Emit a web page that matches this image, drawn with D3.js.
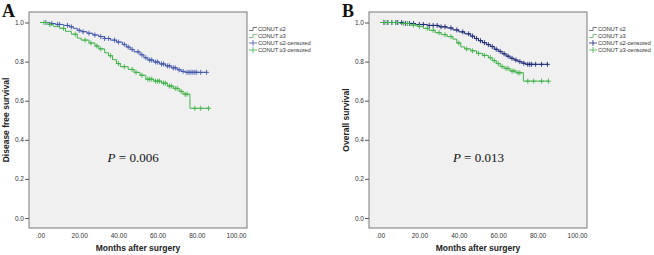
<!DOCTYPE html>
<html>
<head>
<meta charset="utf-8">
<script src="https://cdn.jsdelivr.net/npm/d3@7"></script>
<style>
  body { margin: 0; background: #fff; }
  svg { display: block; }
</style>
</head>
<body>
<svg id="chart" width="654" height="255"></svg>
<script>
// ---- data ----
const xTicks = [0, 20, 40, 60, 80, 100]
const yTicks = [0, 0.2, 0.4, 0.6, 0.8, 1.0]
const legendLabels = ['CONUT \u22642', 'CONUT \u22653', 'CONUT \u22642-censored', 'CONUT \u22653-censored']

// Panel A: disease free survival, [month, survival after step]
const dfsLow = [[0,1],[5,0.995],[8,0.99],[12,0.985],[15,0.978],[17,0.97],[19,0.96],[21,0.953],[24,0.945],[27,0.936],[30,0.928],[33,0.918],[36,0.91],[39,0.9],[42,0.888],[44,0.875],[46,0.862],[48,0.85],[51,0.835],[53,0.82],[55,0.808],[58,0.798],[61,0.788],[64,0.778],[67,0.768],[70,0.758],[72,0.75],[74,0.745]]
const dfsLowEnd = 85
const dfsLowCensor = [3,6,9,10,14,16,20,22,25,28,31,33,35,38,40,43,45,47,50,52,54,56,57,59,60,62,63,65,66,68,69,71,73,75,76,77,78,79,80,82,85]
const dfsHigh = [[0,1],[4,0.99],[7,0.979],[10,0.97],[13,0.955],[16,0.94],[19,0.92],[21,0.91],[25,0.895],[28,0.88],[30,0.865],[33,0.845],[35,0.83],[37,0.81],[39,0.79],[41,0.774],[45,0.76],[48,0.745],[51,0.73],[54,0.71],[58,0.7],[62,0.69],[65,0.675],[68,0.663],[71,0.648],[73,0.633],[76.5,0.561]]
const dfsHighEnd = 86
const dfsHighCensor = [2,5,12,18,23,26,29,31,36,40,43,47,49,52,55,56,57,59,60,61,63,64,66,67,69,70,72,74,75,79,82,86]

// Panel B: overall survival
const osLow = [[0,1],[12,0.995],[18,0.99],[24,0.985],[30,0.978],[34,0.972],[37,0.962],[40,0.952],[43,0.942],[46,0.93],[48,0.918],[50,0.907],[52,0.897],[54,0.887],[56,0.877],[58,0.863],[60,0.852],[62,0.84],[64,0.828],[66,0.817],[68,0.808],[70,0.8],[72,0.792],[74,0.786]]
const osLowEnd = 85
const osLowCensor = [2,4,6,8,9,11,13,15,17,20,22,25,27,29,31,33,36,39,42,45,47,49,51,53,55,57,59,61,63,65,67,69,71,73,75,76,77,79,82,85]
const osHigh = [[0,1],[10,0.995],[15,0.987],[19,0.98],[22,0.97],[25,0.96],[28,0.948],[31,0.938],[34,0.928],[37,0.915],[39,0.895],[41,0.875],[43,0.865],[46,0.855],[49,0.842],[52,0.832],[55,0.82],[57,0.805],[59,0.79],[61,0.775],[63,0.765],[66,0.752],[69,0.743],[72.8,0.7]]
const osHighEnd = 85.5
const osHighCensor = [3,6,8,12,14,17,20,24,27,30,33,36,40,44,47,50,53,56,58,60,62,64,65,67,68,70,71,75,78,82,85.5]

const svg = d3.select('#chart')
const font = 'Arial, "Liberation Sans", sans-serif'

function survAt(steps, t) {
  let s = 1
  for (const [tt, v] of steps) { if (tt <= t) s = v }
  return s
}

function drawPanel(o) {
  const g = svg.append('g')
  const x = d3.scaleLinear().domain([0, 100]).range([o.x0, o.x100])
  const y = d3.scaleLinear().domain([0, 1]).range([218, 22.5])

  g.append('rect')
    .attr('x', o.boxL).attr('y', 12)
    .attr('width', o.boxR - o.boxL).attr('height', 216)
    .attr('fill', '#f0f0f0').attr('stroke', '#7a7a7a').attr('stroke-width', 1)

  g.append('g')
    .attr('transform', `translate(${o.boxL},0)`)
    .call(d3.axisLeft(y).tickValues(yTicks).tickFormat(d3.format('.1f')).tickSize(4).tickPadding(1))
    .call(a => {
      a.select('.domain').remove()
      a.selectAll('.tick line').attr('stroke', '#555')
      a.selectAll('.tick text').attr('fill', '#333').attr('font-size', '6.5px').attr('font-family', font)
    })

  g.append('g')
    .attr('transform', 'translate(0,228)')
    .call(d3.axisBottom(x).tickValues(xTicks).tickFormat(d => d === 0 ? '.00' : d3.format('.2f')(d)).tickSize(0).tickPadding(5))
    .call(a => {
      a.select('.domain').remove()
      a.selectAll('.tick text').attr('fill', '#333').attr('font-size', '6.5px').attr('font-family', font)
    })

  g.append('text')
    .attr('x', (o.boxL + o.boxR) / 2).attr('y', 251)
    .attr('text-anchor', 'middle').attr('font-weight', 'bold')
    .attr('font-size', '8.5px').attr('font-family', font).attr('fill', '#222')
    .text('Months after surgery')

  g.append('text')
    .attr('transform', `translate(${o.boxL - 20},120) rotate(-90)`)
    .attr('text-anchor', 'middle').attr('font-weight', 'bold')
    .attr('font-size', '8.5px').attr('font-family', font).attr('fill', '#222')
    .text(o.yLabel)

  g.append('text')
    .attr('x', o.boxL - 27).attr('y', 17)
    .attr('font-family', '"Times New Roman", "Liberation Serif", serif')
    .attr('font-weight', 'bold').attr('font-size', '18px').attr('fill', '#111')
    .text(o.letter)

  const pText = g.append('text')
    .attr('x', x(o.pAt)).attr('y', 162)
    .attr('font-family', '"Times New Roman", "Liberation Serif", serif')
    .attr('font-size', '13px').attr('fill', '#111')
  pText.append('tspan').attr('font-style', 'italic').text('P')
  pText.append('tspan').text(' = ' + o.pValue)

  const line = d3.line().x(d => x(d[0])).y(d => y(d[1])).curve(d3.curveStepAfter)

  o.series.forEach(s => {
    const pts = s.steps.concat([[s.end, s.steps[s.steps.length - 1][1]]])
    g.append('path').attr('d', line(pts))
      .attr('fill', 'none').attr('stroke', s.color).attr('stroke-width', 1)
    g.append('g').selectAll('path')
      .data(s.censor)
      .join('path')
      .attr('d', t => {
        const cx = x(t), cy = y(survAt(s.steps, t))
        return `M${cx - 2.5},${cy}H${cx + 2.5}M${cx},${cy - 2.5}V${cy + 2.5}`
      })
      .attr('stroke', s.color).attr('stroke-width', 0.9)
  })

  // legend
  const lg = g.append('g').attr('transform', `translate(${o.boxR + 2},0)`)
  const rows = [29, 36, 43, 50]
  const cols = [o.series[0].color, o.series[1].color, o.series[0].color, o.series[1].color]
  legendLabels.forEach((lab, i) => {
    const yy = rows[i]
    if (i < 2) {
      lg.append('path').attr('d', `M0,${yy + 1.5}H4V${yy - 1.5}H8`)
        .attr('fill', 'none').attr('stroke', i === 0 ? '#556' : '#6a6').attr('stroke-width', 0.8)
    } else {
      lg.append('path').attr('d', `M0,${yy}H8M4,${yy - 3}V${yy + 3}`)
        .attr('fill', 'none').attr('stroke', cols[i]).attr('stroke-width', 0.8)
    }
    lg.append('text').attr('x', 9).attr('y', yy + 2.2)
      .attr('font-size', '5.8px').attr('font-family', font).attr('fill', '#333')
      .attr('letter-spacing', '-0.1px')
      .text(lab)
  })
}

drawPanel({
  letter: 'A', yLabel: 'Disease free survival', pValue: '0.006', pAt: 34.5,
  boxL: 29, boxR: 247, x0: 40, x100: 236,
  series: [
    { steps: dfsLow, end: dfsLowEnd, censor: dfsLowCensor, color: '#4458ad' },
    { steps: dfsHigh, end: dfsHighEnd, censor: dfsHighCensor, color: '#3fb34a' }
  ]
})

drawPanel({
  letter: 'B', yLabel: 'Overall survival', pValue: '0.013', pAt: 37,
  boxL: 369, boxR: 587, x0: 380, x100: 577,
  series: [
    { steps: osLow, end: osLowEnd, censor: osLowCensor, color: '#1d2a7a' },
    { steps: osHigh, end: osHighEnd, censor: osHighCensor, color: '#3fb34a' }
  ]
})
</script>
</body>
</html>
